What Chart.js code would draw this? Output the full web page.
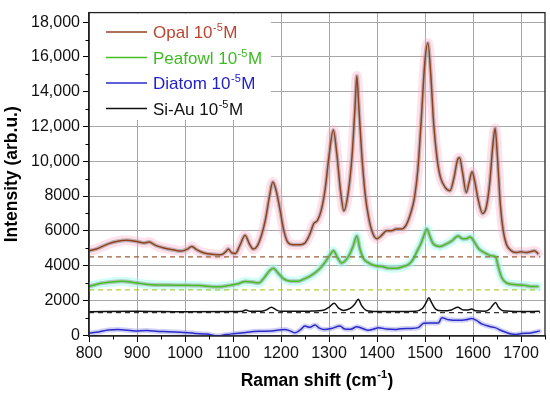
<!DOCTYPE html>
<html><head><meta charset="utf-8">
<script src="https://cdn.jsdelivr.net/npm/chart.js@4.4.0/dist/chart.umd.min.js"></script>
<style>html,body{margin:0;padding:0;background:#fff;}#wrap{width:550px;height:396px;position:relative;}</style>
</head><body><div id="wrap"><canvas id="c" width="550" height="396"></canvas></div>
<script>
// ---- data ----
const opalX = [800,815,840,860,878,900,915,925,940,958,980,993,1005,1014,1025,1040,1060,1075,1085,1090,1098,1105,1115,1125,1135,1142,1150,1160,1168,1176,1183,1190,1198,1206,1214,1225,1240,1250,1260,1268,1276,1284,1292,1300,1309,1316,1324,1331,1340,1348,1354,1358,1362,1368,1375,1383,1392,1400,1410,1420,1430,1440,1450,1460,1470,1478,1485,1492,1500,1506,1512,1518,1525,1532,1542,1552,1560,1568,1572,1578,1586,1592,1598,1604,1610,1620,1628,1635,1641,1646,1651,1657,1663,1670,1680,1690,1700,1710,1720,1728,1735];
const opalY = [4850,4950,5250,5400,5450,5380,5300,5350,5150,5000,4880,4840,4950,5100,4900,4720,4640,4620,4800,4950,4720,4700,5200,5750,5200,4950,5100,5800,6700,8000,8800,8300,7200,6000,5350,5200,5200,5300,5800,6400,6600,7200,8400,10300,11800,10500,8300,7150,8200,10300,13000,14900,13200,10500,8200,6700,5800,5550,5750,6000,6000,6100,6100,6300,7000,7900,9500,12300,15800,16800,15000,12200,10200,9100,8500,8300,9000,10100,10200,9400,8200,8800,9400,8800,7900,7000,7400,8800,10800,11900,10200,7500,6000,5200,4850,4750,4800,4750,4800,4850,4700];

const peaX = [800,820,845,868,900,930,960,1000,1030,1069,1090,1110,1125,1140,1153,1165,1176,1184,1193,1205,1220,1235,1250,1264,1280,1292,1302,1309,1318,1326,1340,1350,1358,1364,1372,1380,1395,1410,1425,1441,1455,1465,1475,1483,1492,1498,1504,1510,1516,1531,1545,1555,1569,1578,1586,1594,1603,1611,1620,1630,1640,1647,1653,1660,1670,1690,1710,1720,1735];
const peaY = [2800,2950,3050,3100,3000,2900,2880,2870,2850,2780,2850,2950,3090,3050,3000,3300,3700,3850,3600,3250,3100,3100,3250,3450,3800,4200,4600,4850,4450,4150,4500,5100,5700,5000,4400,4200,4000,3950,3850,3850,3950,4050,4350,4800,5300,5750,6100,5700,5300,5100,5250,5400,5700,5550,5550,5650,5350,5000,4800,4650,4550,4500,3900,3300,3000,2900,2850,2800,2800];

const diaX = [800,820,840,860,880,896,920,945,965,990,1021,1045,1069,1085,1104,1130,1153,1180,1208,1220,1229,1240,1250,1260,1271,1280,1290,1305,1323,1333,1345,1358,1370,1382,1393,1403,1420,1440,1451,1470,1486,1497,1510,1528,1535,1550,1570,1585,1597,1607,1618,1635,1646,1660,1680,1690,1701,1720,1738];
const diaY = [120,180,300,320,280,240,260,210,200,170,100,60,-40,30,90,170,220,240,320,230,130,300,520,450,580,400,320,380,520,350,340,480,380,280,350,430,350,330,370,380,430,680,700,700,1000,880,850,880,950,850,650,500,430,250,60,40,90,120,230];

const siX = [800,900,1000,1100,1120,1127,1135,1160,1170,1180,1190,1200,1260,1290,1300,1311,1320,1330,1345,1354,1361,1368,1378,1400,1480,1495,1502,1508,1514,1522,1535,1555,1568,1580,1590,1597,1605,1625,1635,1642,1647,1653,1662,1700,1738];
const siY = [1350,1370,1340,1360,1380,1450,1370,1380,1450,1600,1450,1370,1380,1450,1600,1830,1550,1420,1550,1800,2060,1700,1420,1360,1380,1550,1850,2150,1850,1500,1400,1450,1600,1450,1450,1500,1400,1380,1500,1750,1880,1600,1400,1360,1370];

const baseX = [800, 1740];
const opalBase = 4500, peaBase = 2600, siBase = 1300;

const seriesNames = ['Opal', 'Peafowl', 'Diatom', 'Si-Au'];
const concLabel = '10';
const concExp = '-5';
const concUnit = 'M';

const xTickValues = [800,900,1000,1100,1200,1300,1400,1500,1600,1700];
const yTickValues = [0,2000,4000,6000,8000,10000,12000,14000,16000,18000];
const yTickLabels = ['0','2000','4000','6000','8000','10,000','12,000','14,000','16,000','18,000'];
const xTitle = 'Raman shift (cm';
const xTitleExp = '-1';
const yTitle = 'Intensity (arb.u.)';

// ---- styles ----
const C = {opal:'#93401f', pea:'#45c020', dia:'#2b2bc8', si:'#111111'};
const TXT = {opal:'#bb4530', pea:'#3fbb22', dia:'#2222cc', si:'#111111'};
const FONT = "'Liberation Sans', Arial, sans-serif";
const GRID = '#a8a8a8';

const pts = (xs, ys) => xs.map((x, i) => ({x, y: ys[i]}));
const flat = (v) => baseX.map(x => ({x, y: v}));

function line(data, color, width, order, extra) {
  return Object.assign({data, borderColor: color, borderWidth: width, pointRadius: 0,
    fill: false, cubicInterpolationMode: 'monotone', order, borderJoinStyle: 'round', borderCapStyle: 'round'}, extra || {});
}

const opal = pts(opalX, opalY), pea = pts(peaX, peaY), dia = pts(diaX, diaY), si = pts(siX, siY);

const datasets = [
  line(opal, 'rgba(255,170,200,0.35)', 10, 20),
  line(pea, 'rgba(160,255,240,0.5)', 9, 20),
  line(dia, 'rgba(150,150,235,0.45)', 5, 19),
  line(opal, 'rgba(150,150,150,0.6)', 4, 18),
  line(pea, 'rgba(150,150,150,0.55)', 4, 18),
  line(flat(opalBase), '#a0603a', 1.2, 10, {borderDash:[5,4], cubicInterpolationMode:'default', borderCapStyle:'butt'}),
  line(flat(peaBase), '#b5cc3a', 1.2, 10, {borderDash:[5,4], cubicInterpolationMode:'default', borderCapStyle:'butt'}),
  line(flat(siBase), '#333333', 1.2, 10, {borderDash:[5,4], cubicInterpolationMode:'default', borderCapStyle:'butt'}),
  line(dia, C.dia, 1.5, 4),
  line(si, C.si, 1.5, 3),
  line(pea, C.pea, 1.5, 2),
  line(opal, C.opal, 1.5, 1),
];

const decor = {
  id: 'decor',
  beforeDatasetsDraw(chart) {
    // opaque legend background hides the grid behind the legend
    const ctx = chart.ctx, a = chart.chartArea;
    ctx.save();
    ctx.fillStyle = '#fff';
    ctx.fillRect(a.left + 1, a.top + 1, 270 - a.left, 119 - a.top);
    ctx.restore();
  },
  afterDraw(chart) {
    const ctx = chart.ctx, a = chart.chartArea;
    const xs = chart.scales.x, ys = chart.scales.y;
    ctx.save();
    // frame
    ctx.strokeStyle = '#222'; ctx.lineWidth = 1.3;
    ctx.strokeRect(a.left, a.top, a.right - a.left, a.bottom - a.top);
    // minor ticks
    ctx.lineWidth = 1; ctx.strokeStyle = '#000';
    ctx.beginPath();
    for (let v = 1000; v < 18500; v += 2000) {
      const y = Math.round(ys.getPixelForValue(v)) + 0.5;
      ctx.moveTo(a.left - 3.5, y); ctx.lineTo(a.left, y);
    }
    for (let v = 850; v <= 1750; v += 100) {
      const x = Math.round(xs.getPixelForValue(v)) + 0.5;
      ctx.moveTo(x, a.bottom); ctx.lineTo(x, a.bottom + 3.5);
    }
    ctx.stroke();
    // x title with superscript
    const fMain = 'bold 17.5px ' + FONT, fSup = 'bold 11px ' + FONT, close = ')';
    ctx.fillStyle = '#000'; ctx.textBaseline = 'alphabetic';
    ctx.font = fMain; const w1 = ctx.measureText(xTitle).width; const w3 = ctx.measureText(close).width;
    ctx.font = fSup; const w2 = ctx.measureText(xTitleExp).width + 1;
    const total = w1 + w2 + w3;
    let x0 = (a.left + a.right) / 2 - total / 2; const by = 386;
    ctx.textAlign = 'left';
    ctx.font = fMain; ctx.fillText(xTitle, x0, by);
    ctx.font = fSup; ctx.fillText(xTitleExp, x0 + w1 + 0.5, by - 8);
    ctx.font = fMain; ctx.fillText(close, x0 + w1 + w2, by);
    // legend
    const rows = [
      {name: seriesNames[0], line: C.opal, txt: TXT.opal},
      {name: seriesNames[1], line: C.pea, txt: TXT.pea},
      {name: seriesNames[2], line: C.dia, txt: TXT.dia},
      {name: seriesNames[3], line: C.si, txt: TXT.si},
    ];
    const ly0 = 32, ldy = 25.5;
    rows.forEach((r, i) => {
      const y = ly0 + i * ldy;
      ctx.strokeStyle = r.line; ctx.lineWidth = 1.6;
      ctx.beginPath(); ctx.moveTo(106, y); ctx.lineTo(147, y); ctx.stroke();
      ctx.fillStyle = r.txt;
      const base = y + 6;
      let x = 153;
      ctx.font = '17px ' + FONT;
      const t1 = r.name + ' ' + concLabel;
      ctx.fillText(t1, x, base); x += ctx.measureText(t1).width;
      ctx.font = '11px ' + FONT;
      ctx.fillText(concExp, x + 0.5, base - 7); x += ctx.measureText(concExp).width + 1;
      ctx.font = '17px ' + FONT;
      ctx.fillText(concUnit, x, base);
    });
    ctx.restore();
  }
};

new Chart(document.getElementById('c'), {
  type: 'line',
  data: {datasets},
  plugins: [decor],
  options: {
    responsive: false, animation: false, devicePixelRatio: 1,
    layout: {padding: {top: 5, right: 5, left: 0, bottom: 0}},
    plugins: {legend: {display: false}, tooltip: {enabled: false}},
    scales: {
      x: {
        type: 'linear', min: 800, max: 1750,
        afterBuildTicks: s => { s.ticks = xTickValues.map(v => ({value: v})); },
        afterFit: s => { s.height = 60; },
        grid: {color: GRID, lineWidth: 1, tickColor: '#000', tickLength: 6, drawTicks: true},
        border: {display: true, color: '#222', width: 1.3},
        ticks: {color: '#111', font: {family: FONT, size: 16}, padding: 2, maxRotation: 0, autoSkip: false,
          callback: v => String(v)}
      },
      y: {
        type: 'linear', min: -50, max: 18550,
        afterBuildTicks: s => { s.ticks = yTickValues.map(v => ({value: v})); },
        afterFit: s => { s.width = 89; },
        grid: {color: ctx => (ctx.tick && ctx.tick.value === 0) ? 'rgba(0,0,0,0)' : GRID, lineWidth: 1, tickColor: '#000', tickLength: 6, drawTicks: true},
        border: {display: true, color: '#222', width: 1.3},
        ticks: {color: '#111', font: {family: FONT, size: 16}, padding: 3, autoSkip: false,
          callback: v => { const i = yTickValues.indexOf(v); return i >= 0 ? yTickLabels[i] : ''; }},
        title: {display: true, text: yTitle, color: '#000', font: {family: FONT, size: 17.5, weight: 'bold'}, padding: {top: 2, bottom: 0}}
      }
    }
  }
});
</script></body></html>
